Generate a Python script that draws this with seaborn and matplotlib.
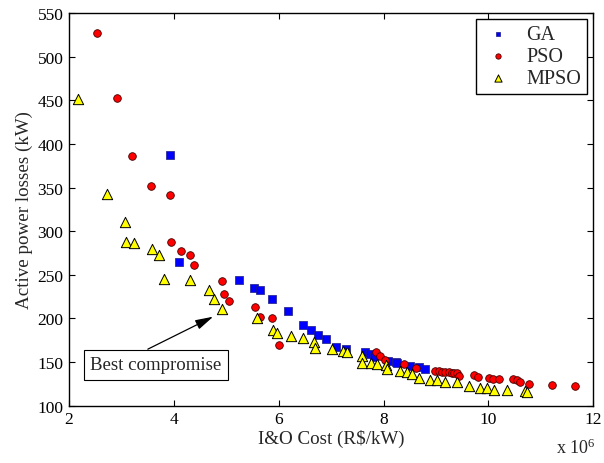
import matplotlib
matplotlib.use("Agg")
import matplotlib.pyplot as plt
import seaborn as sns
import pandas as pd

# I&O cost in units of 10^6 R$/kW, active power losses in kW
ga_cost = [3.93, 4.09, 5.25, 5.52, 5.65, 5.87, 6.17, 6.47, 6.61, 6.75, 6.90,
           7.10, 7.29, 7.65, 7.74, 7.81, 8.09, 8.24, 8.25, 8.51, 8.67, 8.79]
ga_loss = [387, 265, 244, 235, 233, 222, 208, 192, 187, 181, 176,
           167, 165, 162, 159, 156, 151, 150, 149, 146, 144, 142]

pso_cost = [2.53, 2.92, 3.20, 3.56, 3.93, 3.95, 4.14, 4.30, 4.39, 4.91, 4.95,
            5.05, 5.55, 5.65, 5.87, 6.01, 7.85, 7.94, 8.03, 8.38, 8.62,
            8.98, 9.05, 9.12, 9.18, 9.24, 9.30, 9.35, 9.40, 9.43,
            9.73, 9.80, 10.02, 10.09, 10.21, 10.46, 10.54, 10.61, 10.78,
            11.21, 11.66]
pso_loss = [527, 453, 386, 352, 342, 288, 277, 273, 261, 243, 228,
            220, 213, 202, 200, 169, 162, 157, 152, 148, 143,
            140, 140, 139, 139, 139, 138, 138, 137, 134,
            135, 133, 132, 131, 131, 131, 129, 127, 125,
            124, 123]

mpso_cost = [2.17, 2.72, 3.07, 3.08, 3.24, 3.59, 3.72, 3.82, 4.31, 4.68, 4.77,
             4.91, 5.59, 5.89, 5.97, 6.24, 6.46, 6.68, 6.69, 7.02, 7.22,
             7.31, 7.58, 7.58, 7.76, 7.87, 8.04, 8.07, 8.32, 8.45, 8.54,
             8.67, 8.89, 9.02, 9.18, 9.40, 9.62, 9.84, 9.97, 10.10, 10.35,
             10.70, 10.73]
mpso_loss = [451, 343, 311, 288, 287, 280, 273, 245, 244, 233, 222,
             211, 200, 187, 183, 180, 178, 173, 166, 165, 163,
             162, 157, 149, 149, 148, 147, 142, 140, 139, 136,
             132, 130, 129, 127, 127, 122, 120, 120, 118, 118,
             117, 116]

x_ticks = [2, 4, 6, 8, 10, 12]
y_ticks = [100, 150, 200, 250, 300, 350, 400, 450, 500, 550]

best_cost, best_loss = 4.75, 202
label_cost, label_loss = 3.66, 147

sns.set_theme(style="ticks", rc={
    "xtick.direction": "in", "ytick.direction": "in",
    "xtick.top": True, "ytick.right": True,
    "xtick.major.size": 4, "ytick.major.size": 4,
    "xtick.major.width": 0.8, "ytick.major.width": 0.8,
    "axes.linewidth": 1.0, "axes.edgecolor": "black",
    "xtick.color": "black", "ytick.color": "black",
})
plt.rcParams["font.family"] = ["Liberation Serif", "DejaVu Serif"]
plt.rcParams["mathtext.fontset"] = "custom"
plt.rcParams["mathtext.rm"] = "Liberation Serif"
plt.rcParams["mathtext.default"] = "regular"

fig = plt.figure(figsize=(6.04, 4.64), dpi=100)
ax = fig.add_axes([0.1142, 0.1235, 0.8681, 0.8463])

ga = pd.DataFrame({"cost": ga_cost, "loss": ga_loss})
pso = pd.DataFrame({"cost": pso_cost, "loss": pso_loss})
mpso = pd.DataFrame({"cost": mpso_cost, "loss": mpso_loss})

sns.scatterplot(data=ga, x="cost", y="loss", ax=ax, marker="s", s=26,
                color="#0000ff", edgecolor="#1a1a80", linewidth=0.5,
                label="GA", zorder=3)
sns.scatterplot(data=pso, x="cost", y="loss", ax=ax, marker="o", s=30,
                color="#ff0000", edgecolor="#400000", linewidth=0.6,
                label="PSO", zorder=4)
sns.scatterplot(data=mpso, x="cost", y="loss", ax=ax, marker="^", s=55,
                color="#ffff00", edgecolor="black", linewidth=0.7,
                label="MPSO", zorder=5)

ax.set_xlim(2, 12)
ax.set_ylim(100, 550)
ax.set_xticks(x_ticks)
ax.set_yticks(y_ticks)
ax.tick_params(labelsize=12.5, pad=4)
ax.set_xlabel("I&O Cost (R\\$/kW)", fontsize=13.7, labelpad=1)
ax.set_ylabel("Active power losses (kW)", fontsize=13.7, labelpad=3)

ax.text(0.929, -0.105, "x 10$^{6}$", transform=ax.transAxes,
        fontsize=13, ha="left", va="center")

ax.annotate("Best compromise", xy=(best_cost, best_loss),
            xytext=(label_cost, label_loss), textcoords="data",
            fontsize=13.6, ha="center", va="center",
            bbox=dict(boxstyle="square,pad=0.35", fc="white",
                      ec="black", lw=0.8),
            arrowprops=dict(arrowstyle="-|>,head_length=0.8,head_width=0.22",
                            color="black", lw=0.9, relpos=(0.33, 1.0),
                            shrinkA=0, shrinkB=0),
            zorder=6)

leg = ax.legend(loc="upper right", fontsize=14.5, frameon=True,
                fancybox=False, edgecolor="black", framealpha=1,
                borderaxespad=0.3, labelspacing=0.15, handletextpad=0.6,
                borderpad=0.3, markerscale=0.7, handlelength=1.6)
leg.get_frame().set_linewidth(1.0)

fig.savefig("out.png", dpi=100)
